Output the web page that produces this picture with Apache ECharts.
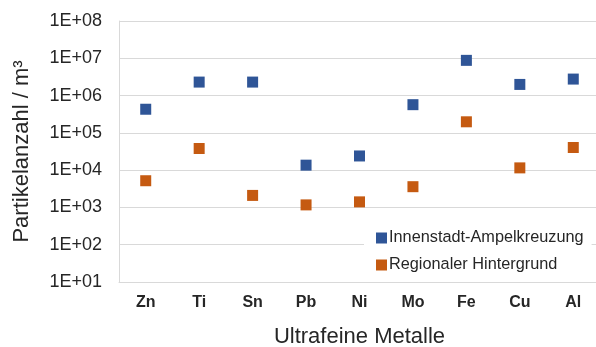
<!DOCTYPE html>
<html>
<head>
<meta charset="utf-8">
<script src="https://cdn.jsdelivr.net/npm/echarts@6/dist/echarts.min.js"></script>
<style>
html,body{margin:0;padding:0;background:#fff;}
#chart{width:596px;height:347px;}
</style>
</head>
<body>
<div id="chart"></div>
<script>
// Ultrafine metal particle counts per m³, two sampling sites
const metals = ['Zn', 'Ti', 'Sn', 'Pb', 'Ni', 'Mo', 'Fe', 'Cu', 'Al'];
const innenstadt = [4.3e5, 2.3e6, 2.3e6, 1.36e4, 2.4e4, 5.7e5, 8.8e6, 1.99e6, 2.77e6];
const hintergrund = [5.2e3, 3.8e4, 2.1e3, 1.17e3, 1.41e3, 3.6e3, 1.98e5, 1.15e4, 4.05e4];
const seriesNames = ['Innenstadt-Ampelkreuzung', 'Regionaler Hintergrund'];

const font = 'Liberation Sans, Arial, sans-serif';
const textColor = '#262626';

const chart = echarts.init(document.getElementById('chart'));
chart.setOption({
  animation: false,
  textStyle: { fontFamily: font },
  grid: { left: 119, top: 21, width: 481, height: 261, containLabel: false, outerBoundsMode: 'none' },
  legend: {
    orient: 'vertical',
    left: 364,
    top: 226,
    itemWidth: 11,
    itemHeight: 11,
    itemGap: 11,
    icon: 'rect',
    backgroundColor: '#fff',
    padding: [4, 8, 4, 12],
    textStyle: { fontFamily: font, fontSize: 16.3, color: textColor, padding: [0, 0, 0, -3] },
    data: seriesNames
  },
  xAxis: {
    type: 'category',
    data: metals,
    boundaryGap: true,
    axisTick: { show: false },
    axisLine: { lineStyle: { color: '#d9d9d9', width: 1 } },
    axisLabel: { fontFamily: font, fontSize: 16, fontWeight: 'bold', color: textColor, margin: 13 },
    name: 'Ultrafeine Metalle',
    nameLocation: 'middle',
    nameGap: 44,
    nameTextStyle: { fontFamily: font, fontSize: 22, color: textColor }
  },
  yAxis: {
    type: 'log',
    logBase: 10,
    min: 10,
    max: 1e8,
    axisLine: { show: true, lineStyle: { color: '#d9d9d9', width: 1 } },
    axisTick: { show: false },
    splitLine: { lineStyle: { color: '#d9d9d9', width: 1 } },
    axisLabel: {
      fontFamily: font, fontSize: 18, color: textColor, margin: 17,
      formatter: function (v) {
        const e = Math.round(Math.log10(v));
        return '1E+' + (e < 10 ? '0' + e : e);
      }
    },
    name: 'Partikelanzahl / m³',
    nameLocation: 'middle',
    nameGap: 86,
    nameTextStyle: { fontFamily: font, fontSize: 22, color: textColor }
  },
  series: [
    {
      name: seriesNames[0],
      type: 'scatter',
      symbol: 'rect',
      symbolSize: 11,
      itemStyle: { color: '#2F5597', opacity: 1 },
      data: innenstadt
    },
    {
      name: seriesNames[1],
      type: 'scatter',
      symbol: 'rect',
      symbolSize: 11,
      itemStyle: { color: '#C55A11', opacity: 1 },
      data: hintergrund
    }
  ]
});
</script>
</body>
</html>
